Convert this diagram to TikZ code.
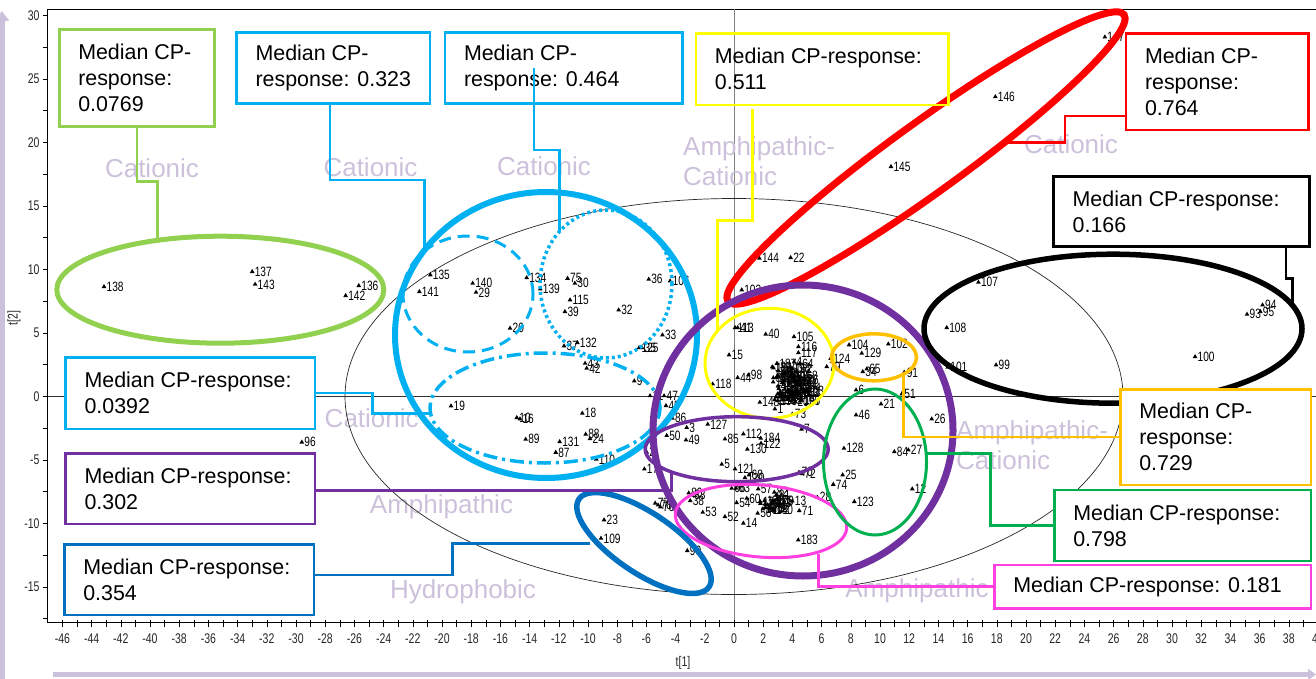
\documentclass[tikz,border=0pt]{standalone}
\usepackage{fontspec}
\setmainfont{Liberation Sans}
\newfontfamily\narrowfont[FakeStretch=0.75]{Liberation Sans}
\usepackage{tikz}
\usetikzlibrary{shapes.geometric}
\usetikzlibrary{arrows.meta}

\definecolor{lilac}{RGB}{204,193,218}
\definecolor{cpgreen}{HTML}{92D050}
\definecolor{cpcyan}{HTML}{00B0F0}
\definecolor{cpyellow}{HTML}{FFFF00}
\definecolor{cpred}{HTML}{FF0000}
\definecolor{cporange}{HTML}{FFC000}
\definecolor{cppurple}{HTML}{7030A0}
\definecolor{cpgreenb}{HTML}{00B050}
\definecolor{cpmagenta}{HTML}{FF3FDF}
\definecolor{cpblue}{HTML}{0070C0}

\begin{document}
\begin{tikzpicture}[x=1pt, y=-1pt,
    mk/.style = {regular polygon, regular polygon sides=3, fill=black,
                 inner sep=0pt, minimum size=5.5pt},
    plab/.style = {font=\narrowfont\fontsize{13.5}{13.5}\selectfont, inner sep=0.6pt},
    ticklab/.style = {font=\narrowfont\fontsize{14}{14}\selectfont, text=black!85},
    region/.style = {text=lilac, font=\fontsize{26}{30}\selectfont,
                     align=left, inner sep=0pt},
    grp/.style = {ellipse, draw, inner sep=0pt},
    callout/.style = {rectangle, draw, line width=2.5pt, fill=white, inner sep=0pt},
    calltext/.style = {anchor=west, align=left, inner sep=0pt,
                       font=\fontsize{21.4}{26}\selectfont},
    callline/.style = {line width=2.5pt}]
  \useasboundingbox (0,0) rectangle (1316,679);

  % lilac axis arrows
  \draw[lilac, line width=5pt, -{Triangle[width=14pt,length=10pt]}] (2,679) -- (2,11);
  \draw[lilac, line width=5pt, -{Triangle[width=11pt,length=8pt]}] (53,674.5) -- (1316,674.5);

  % frame and axes
  \draw[line width=0.8pt] (47,9) -- (1316,9);
  \draw[line width=0.8pt] (47,9) -- (47,622) -- (1316,622);
  \draw[black!80, line width=0.9pt] (47,396.5) -- (1316,396.5);
  \draw[gray, line width=0.9pt] (734,9) -- (734,622);
  \foreach \t in {-46,...,40}
    \draw[line width=0.6pt] ({734+14.6*\t},620) -- ({734+14.6*\t},627);
  \foreach \t in {-46,-44,...,40}
    \node[ticklab] at ({734+14.6*\t},639) {\t};
  \foreach \v in {30,27.5,...,-17.5}
    \draw[line width=0.6pt] (43,{396.5-12.7*\v}) -- (48,{396.5-12.7*\v});
  \foreach \v in {30,25,...,-15}
    \node[ticklab, anchor=east] at (43,{396.5-12.7*\v}) {\v};
  \node[ticklab] (tone) at (683,663) {t[1]};
  \node[ticklab, rotate=90] (ttwo) at (14,318) {t[2]};

  % group names
  \node[region] (rA) at (152,168) {Cationic};
  \node[region] (rB) at (370.5,167) {Cationic};
  \node[region] (rC) at (544,166.7) {Cationic};
  \node[region, anchor=west] (rD) at (683,161.7) {Amphipathic-\\Cationic};
  \node[region] (rE) at (1071,144.3) {Cationic};
  \node[region] (rG) at (371.7,418.3) {Cationic};
  \node[region] (rH) at (441.5,506.7) {Amphipathic};
  \node[region] (rI) at (463,591.7) {Hydrophobic};
  \node[region] (rL) at (917,591) {Amphipathic};
  \node[region, anchor=west] (rJ) at (956,445) {Amphipathic-\\Cationic};

  % score ellipse
  \node[grp, draw=black!85, line width=0.7pt, minimum width=778pt,
        minimum height=396pt] (hot) at (734,396.5) {};

  % scores
  \begin{scope}[shift={(734,396.5)}, x=14.6pt, y=12.7pt]
    \foreach \px/\py/\l in {-43.15/8.65/138, -33.0/9.83/137, -32.8/8.83/143,
        -25.7/8.72/136, -26.6/7.94/142, -29.6/-3.6/96, -21.55/8.25/141,
        -20.8/9.57/135, -17.9/8.91/140, -17.67/8.2/29, -14.2/9.35/134,
        -13.27/8.46/139, -11.4/9.3/75, -10.9/8.91/30, -11.23/7.6/115,
        -11.58/6.68/39, -5.84/9.23/36, -4.38/9.09/106, -7.9/6.81/32,
        -15.34/5.37/20, -11.64/3.98/37, -10.73/4.24/132, -4.9/4.84/33,
        -6.5/3.84/125, -6.3/3.84/35, -10.2/2.61/43, -10.09/2.22/42,
        -6.83/1.22/9, -19.38/-0.75/19, -14.88/-1.67/10, -14.66/-1.77/16,
        -10.39/-1.32/18, -14.27/-3.37/89, -11.94/-3.56/131, -12.21/-4.4/87,
        -10.16/-2.98/88, -9.86/-3.32/24, -9.43/-4.95/110, -5.75/0.05/11,
        -4.79/0.05/47, -4.66/-0.72/45, -4.22/-1.72/86, -3.24/-2.45/3,
        -1.8/-2.19/127, -4.61/-3.08/50, -3.29/-3.43/49, -0.62/-3.35/85,
        0.64/-2.95/112, 0.91/-4.16/130, 1.83/-3.29/184, 1.85/-3.69/122,
        7.53/-4.08/128, 8.36/-1.46/46, 3.99/-1.4/73, 4.63/-2.58/7,
        2.8/-0.98/1, 1.77/-0.46/148, 1.74/10.88/144, 3.88/10.93/22,
        0.53/8.39/103, 0.07/5.42/113, 0.25/5.42/41, 2.17/4.9/40,
        4.11/4.71/105, 4.41/3.92/116, 4.41/3.45/117, -0.34/3.27/15,
        -1.46/0.98/118, 0.25/1.48/44, 0.98/1.69/98, 7.88/4.06/104,
        6.62/3.0/124, 6.35/2.35/79, 8.75/3.4/129, 8.82/1.95/34,
        9.09/2.16/65, 8.36/0.51/6, 10.57/4.13/102, 11.66/1.9/91,
        11.49/0.2/51, 10.07/-0.59/21, 13.54/-1.77/26, 10.98/-4.35/84,
        11.94/-4.21/27, 16.74/8.99/107, 14.57/5.42/108, 14.64/2.3/101,
        17.95/2.48/99, 31.58/3.13/100, 35.14/6.47/93, 36.2/7.2/94,
        36.05/6.68/95, 10.75/18.1/145, 17.9/23.6/146, 25.4/28.3/147,
        12.21/-7.28/12, 7.44/-6.18/25, 6.8/-6.92/74, 8.24/-8.28/123,
        -0.84/-5.34/5, 0.07/-5.71/121, 0.75/-6.39/120, 1.03/-6.18/68,
        4.45/-5.97/70, 4.65/-6.08/72, 5.71/-7.94/28, 3.99/-8.23/13,
        4.47/-8.99/71, 4.4/-11.3/183, 0.64/-9.98/14, -0.62/-9.46/52,
        -2.14/-9.12/53, 1.62/-9.2/56, 0.18/-8.36/54, 0.87/-8.02/60,
        2.92/-8.1/61, 1.66/-7.28/57, -0.16/-7.23/66, 0.14/-7.23/63,
        2.76/-7.54/82, 2.9/-7.75/81, -3.1/-7.6/80, -2.9/-7.75/83,
        -3.0/-8.2/38, -5.4/-8.4/77, -5.2/-8.55/78, -5.05/-8.7/76,
        -6.14/-5.71/17, -5.98/-4.39/2, -8.9/-9.72/23, -9.11/-11.17/109,
        -3.2/-12.14/90}
      \node[mk, label={[plab]right:\l}] (p\l) at (\px,\py) {};
    % dense clumps
    \pgfmathsetseed{11}
    \foreach \l in {4,8,31,48,55,58,59,62,64,67,69,92,97,111,114,119,126,
                    133,150,152,153,154,155,156,157,158,160,161,162,163,
                    164,165,166,167,168,185,186,187,188,189,190,191,192,
                    193,194,195,196,197,198,199,200,201,202,203,204,205}{
      \pgfmathsetmacro\px{2.6+2.3*rnd}
      \pgfmathsetmacro\py{-0.5+3.4*rnd}
      \node[mk, label={[plab]right:\l}] (q\l) at (\px,\py) {};
    }
    \foreach \l in {170,171,172,173,174,175,176,177,178,179,180,181,182}{
      \pgfmathsetmacro\px{1.8+1.0*rnd}
      \pgfmathsetmacro\py{-8.9+0.7*rnd}
      \node[mk, label={[plab]right:\l}] (q\l) at (\px,\py) {};
    }
  \end{scope}

  % groups
  \node[grp, draw=cpgreen, line width=5pt, minimum width=327pt,
        minimum height=107pt] (eA) at (220.3,289.7) {};
  \node[grp, draw=cpcyan, line width=6pt, minimum width=302pt,
        minimum height=286pt] (eBig) at (546,335) {};
  \node[grp, draw=cpcyan, line width=3pt, dash pattern=on 12pt off 7pt,
        minimum width=130pt, minimum height=116pt] (eB) at (468,294) {};
  \node[grp, draw=cpcyan, line width=3.5pt, dash pattern=on 3pt off 3pt,
        minimum width=132pt, minimum height=148pt] (eC) at (606,284) {};
  \node[grp, draw=cpcyan, line width=3.5pt,
        dash pattern=on 14pt off 5pt on 3pt off 5pt,
        minimum width=230pt, minimum height=110pt] (eG) at (545,408) {};
  \node[grp, draw=cpred, line width=7pt, minimum width=489pt,
        minimum height=70pt, rotate=35.9] (eE) at (926,158) {};
  \node[grp, draw=cpyellow, line width=3pt, minimum width=129pt,
        minimum height=110pt] (eD) at (769.5,363.3) {};
  \node[grp, draw=cporange, line width=3.5pt, minimum width=85pt,
        minimum height=47pt] (eJ) at (874,357.3) {};
  \node[grp, draw=cppurple, line width=7pt, minimum width=300pt,
        minimum height=291pt] (eP) at (803,430.5) {};
  \node[grp, draw=cppurple, line width=3.5pt, minimum width=183pt,
        minimum height=65pt] (eH) at (736.7,449.2) {};
  \node[grp, draw=cpmagenta, line width=3pt, minimum width=172pt,
        minimum height=72pt, rotate=-5] (eL) at (761,521) {};
  \node[grp, draw=cpgreenb, line width=3pt, minimum width=103pt,
        minimum height=146pt] (eK) at (875,462) {};
  \node[grp, draw=cpblue, line width=5.5pt, minimum width=157pt,
        minimum height=60pt, rotate=-34] (eI) at (644,543) {};
  \node[grp, draw=black, line width=5.5pt, minimum width=378pt,
        minimum height=149pt] (eF) at (1113,328.7) {};

  % callouts
  \node[callout, draw=cpgreen, minimum width=155pt, minimum height=97.4pt] (bA) at (136.8,78) {};
  \node[calltext] at ([xshift=20pt]bA.west) {Median CP-\\response:\\0.0769};
  \node[callout, draw=cpcyan, minimum width=193.3pt, minimum height=71pt] (bB) at (333.3,67.8) {};
  \node[calltext] at ([xshift=20pt]bB.west) {Median CP-\\response: 0.323};
  \node[callout, draw=cpcyan, minimum width=237.3pt, minimum height=71pt] (bC) at (563.7,67.8) {};
  \node[calltext] at ([xshift=20pt]bC.west) {Median CP-\\response: 0.464};
  \node[callout, draw=cpyellow, fill=none, minimum width=252.7pt, minimum height=71.7pt] (bD) at (822.3,69.2) {};
  \node[calltext] at ([xshift=20pt]bD.west) {Median CP-response:\\0.511};
  \node[callout, draw=cpred, minimum width=182.3pt, minimum height=96.7pt] (bE) at (1217.2,81.7) {};
  \node[calltext] at ([xshift=20pt]bE.west) {Median CP-\\response:\\0.764};
  \node[callout, draw=black, minimum width=255.6pt, minimum height=70pt] (bF) at (1181.5,211.7) {};
  \node[calltext] at ([xshift=20pt]bF.west) {Median CP-response:\\0.166};
  \node[callout, draw=cpcyan, minimum width=249.3pt, minimum height=71.7pt] (bG) at (190.3,393.2) {};
  \node[calltext] at ([xshift=20pt]bG.west) {Median CP-response:\\0.0392};
  \node[callout, draw=cppurple, minimum width=249.3pt, minimum height=70.7pt] (bH) at (190.3,488.7) {};
  \node[calltext] at ([xshift=20pt]bH.west) {Median CP-response:\\0.302};
  \node[callout, draw=cpblue, minimum width=249.7pt, minimum height=70.7pt] (bI) at (189.2,579.7) {};
  \node[calltext] at ([xshift=20pt]bI.west) {Median CP-response:\\0.354};
  \node[callout, draw=cporange, minimum width=190.7pt, minimum height=95.7pt] (bJ) at (1215.7,437.2) {};
  \node[calltext] at ([xshift=20pt]bJ.west) {Median CP-\\response:\\0.729};
  \node[callout, draw=cpgreenb, minimum width=256.7pt, minimum height=70.7pt] (bK) at (1182.7,525.4) {};
  \node[calltext] at ([xshift=20pt]bK.west) {Median CP-response:\\0.798};
  \node[callout, draw=cpmagenta, minimum width=316.7pt, minimum height=43.3pt] (bL) at (1152.7,586.7) {};
  \node[calltext] at ([xshift=20pt]bL.west) {Median CP-response: 0.181};

  % leader lines
  \coordinate (tA) at (157.7,239);
  \coordinate (tB) at (424.3,250);
  \coordinate (tC) at (559.3,232);
  \coordinate (tD) at (717.7,330);
  \coordinate (tE) at (1004.3,142.3);
  \coordinate (tF) at (1292.7,303);
  \coordinate (tG) at (430,413.3);
  \coordinate (tH) at (671.7,473);
  \coordinate (tI) at (590,543.3);
  \coordinate (tJ) at (903.7,375);
  \coordinate (tK) at (926,453.3);
  \coordinate (tL) at (818.3,554);
  \draw[callline, cpgreen] (bA.south) |- (157.7,181.7) -- (tA);
  \draw[callline, cpcyan] ([xshift=-3.3pt]bB.south) |- (424.3,180) -- (tB);
  \draw[callline, cpcyan] ([xshift=-29.7pt]bC.center) |- (559.3,150) -- (tC);
  \draw[callline, cpyellow] ([xshift=-69.6pt,yshift=-3pt]bD.south) |- (717.7,220.7) -- (tD);
  \draw[callline, cpred] ([yshift=-34.3pt]bE.west) -| (1065,142.3) -- (tE);
  \draw[callline, black] ([xshift=104.5pt]bF.south) |- (1292.7,278.3) -- (tF);
  \draw[callline, cpcyan] (bG.east) -| (372.7,413.3) -- (tG);
  \draw[callline, cppurple] ([yshift=-2pt]bH.east) -| (tH);
  \draw[callline, cpblue] ([yshift=4.7pt]bI.east) -| (452.3,543.3) -- (tI);
  \draw[callline, cporange] (bJ.west) -| (tJ);
  \draw[callline, cpgreenb] (bK.west) -| (990.3,453.3) -- (tK);
  \draw[callline, cpmagenta] (bL.west) -| (tL);
\end{tikzpicture}
\end{document}
